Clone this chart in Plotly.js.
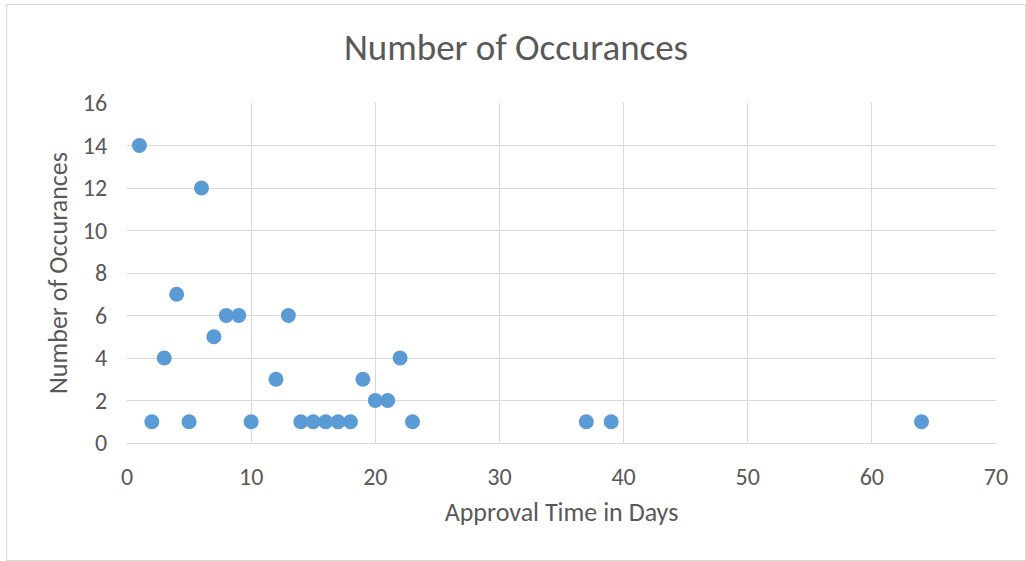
<!DOCTYPE html>
<html>
<head>
<meta charset="utf-8">
<script src="https://cdn.plot.ly/plotly-3.0.1.min.js"></script>
<style>
html,body{margin:0;padding:0;background:#fff;}
#chart{position:absolute;left:6px;top:4px;width:1020px;height:557px;border:1px solid #d9d9d9;box-sizing:border-box;}
</style>
</head>
<body>
<div id="chart"></div>
<script>
const approvalDays = [1,2,3,4,5,6,7,8,9,10,12,13,14,15,16,17,18,19,20,21,22,23,37,39,64];
const occurrences  = [14,1,4,7,1,12,5,6,6,1,3,6,1,1,1,1,1,3,2,2,4,1,1,1,1];
const xTicks = [0,10,20,30,40,50,60,70];
const yTicks = [0,2,4,6,8,10,12,14,16];

const font = "Carlito, Calibri, Lato, 'Open Sans', sans-serif";
const grey = '#d9d9d9';
const textCol = '#595959';

Plotly.newPlot('chart', [{
  type: 'scatter',
  mode: 'markers',
  x: approvalDays,
  y: occurrences,
  marker: {color: '#5b9bd5', size: 15, line: {width: 0}},
  hoverinfo: 'x+y'
}], {
  width: 1018,
  height: 555,
  margin: {l: 120, r: 29, t: 98, b: 117},
  paper_bgcolor: '#fff',
  plot_bgcolor: '#fff',
  showlegend: false,
  title: {text: 'Number of Occurances', font: {family: font, size: 37, color: textCol}, x: 0.5, xref: 'container', xanchor: 'center', y: 0.925, yanchor: 'middle'},
  xaxis: {
    range: [0, 70], tickvals: xTicks, ticktext: xTicks.map(String),
    showgrid: true, gridcolor: grey, gridwidth: 1,
    zeroline: false, showline: true, linecolor: grey, linewidth: 1, mirror: false,
    ticks: 'outside', ticklen: 12, tickcolor: 'rgba(0,0,0,0)',
    tickfont: {family: font, size: 24, color: textCol},
    title: {text: 'Approval Time in Days', font: {family: font, size: 26, color: textCol}, standoff: 13}
  },
  yaxis: {
    range: [0, 16], tickvals: yTicks, ticktext: yTicks.map(String),
    showgrid: true, gridcolor: grey, gridwidth: 1,
    zeroline: false, showline: false,
    ticks: 'outside', ticklen: 14, tickcolor: 'rgba(0,0,0,0)',
    tickfont: {family: font, size: 24, color: textCol},
    title: {text: 'Number of Occurances', font: {family: font, size: 26, color: textCol}, standoff: 7}
  }
}, {displayModeBar: false, staticPlot: true});
</script>
</body>
</html>
